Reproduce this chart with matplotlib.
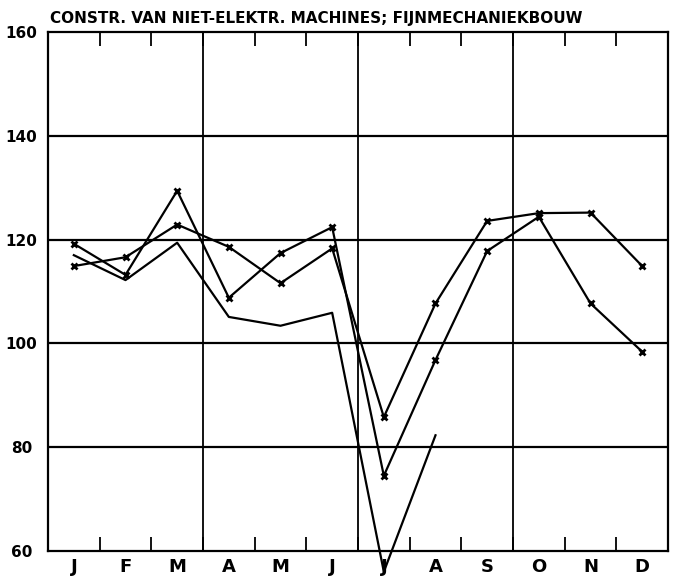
import matplotlib
matplotlib.use("Agg")
import matplotlib.pyplot as plt

months = ["J", "F", "M", "A", "M", "J", "J", "A", "S", "O", "N", "D"]
series_a = [119.2, 113.2, 129.4, 108.8, 117.4, 122.4, 74.5, 96.8, 117.8, 124.4, 107.7, 98.4]
series_b = [114.9, 116.6, 122.9, 118.6, 111.6, 118.3, 85.8, 107.7, 123.6, 125.1, 125.2, 114.9]
series_c = [117.0, 112.2, 119.4, 105.1, 103.4, 105.9, 56.0, 82.3]
yticks = [60, 80, 100, 120, 140, 160]
title = "CONSTR. VAN NIET-ELEKTR. MACHINES; FIJNMECHANIEKBOUW"

fam = "DejaVu Sans"

fig = plt.figure(figsize=(6.84, 5.80), dpi=100)
ax = fig.add_axes([48/684, 1-551/580, (668-48)/684, (551-32)/580])

x = list(range(12))
lw = 1.6
ax.plot(x, series_a, color="black", lw=lw, marker="x", ms=5, mew=2, clip_on=False, zorder=3)
ax.plot(x, series_b, color="black", lw=lw, marker="x", ms=5, mew=2, clip_on=False, zorder=3)
ax.plot(x[:len(series_c)], series_c, color="black", lw=lw, clip_on=False, zorder=3)

ax.set_xlim(-0.5, 11.5)
ax.set_ylim(60, 160)

for yv in yticks[1:-1]:
    ax.axhline(yv, color="black", lw=1.6, zorder=1)
for xv in [2.5, 5.5, 8.5]:
    ax.axvline(xv, color="black", lw=1.3, zorder=1)

for s in ax.spines.values():
    s.set_linewidth(1.6)

ax.set_xticks([i + 0.5 for i in range(11)])
ax.set_xticklabels([])
ax.tick_params(axis="x", which="major", direction="in", top=True, bottom=True,
               length=10, width=1.3)
ax.set_xticks(x, minor=True)
ax.set_xticklabels(months, minor=True, fontfamily=fam, fontweight="bold", fontsize=13)
ax.tick_params(axis="x", which="minor", length=0, pad=5)

ax.set_yticks(yticks)
ax.set_yticklabels([str(v) for v in yticks], fontfamily=fam, fontweight="bold",
                   fontsize=11, ha="center")
ax.tick_params(axis="y", length=0, pad=19)

fig.text(50/684, 1-23/580, title, fontfamily=fam, fontweight="bold", fontsize=11,
         ha="left", va="baseline")

fig.savefig("out.png", dpi=100)
